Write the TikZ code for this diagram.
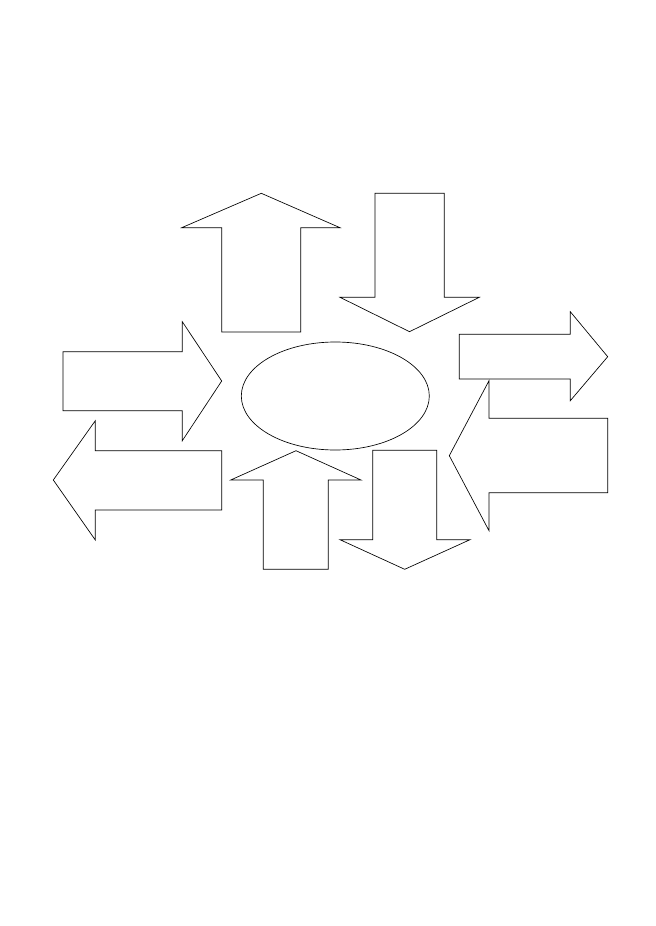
\documentclass[tikz,border=0pt]{standalone}
\usepackage{tikz}

\tikzset{
    blockarrow/.style={draw=black, line width=0.6pt, line join=miter},
    hub/.style={draw=black, line width=0.6pt}
}

\begin{document}
\begin{tikzpicture}[x=0.9088pt, y=-0.9088pt]

    % Page size (pixels of the reference)
    \useasboundingbox (0,0) rectangle (655,926);

    % Draw central ellipse
    \draw[hub] (335.3,396) ellipse [x radius=94, y radius=54];

    % Draw upper arrow pointing up
    \draw[blockarrow] (221.7,332) -- (221.7,227.7) -- (181.7,227.7) -- (261.3,193.3)
        -- (340,227.7) -- (300.7,227.7) -- (300.7,332) -- cycle;

    % Draw upper arrow pointing down
    \draw[blockarrow] (375,193.3) -- (444.3,193.3) -- (444.3,297.3) -- (479.3,297.3)
        -- (409.5,331.7) -- (340,297.3) -- (375,297.3) -- cycle;

    % Draw left arrow pointing right
    \draw[blockarrow] (63,351.7) -- (182.3,351.7) -- (182.3,321.7) -- (221.7,381)
        -- (182.3,440.7) -- (182.3,410.7) -- (63,410.7) -- cycle;

    % Draw right arrow pointing right
    \draw[blockarrow] (459.3,334.3) -- (570.3,334.3) -- (570.3,311.7) -- (607.7,356.7)
        -- (570.3,400.7) -- (570.3,379) -- (459.3,379) -- cycle;

    % Draw left arrow pointing left
    \draw[blockarrow] (221.7,450.7) -- (95.3,450.7) -- (95.3,420.7) -- (53.3,480)
        -- (95.3,540) -- (95.3,510) -- (221.7,510) -- cycle;

    % Draw lower arrow pointing up
    \draw[blockarrow] (263.3,569.3) -- (263.3,480) -- (230.7,480) -- (296,450.7)
        -- (361,480) -- (328.3,480) -- (328.3,569.3) -- cycle;

    % Draw lower arrow pointing down
    \draw[blockarrow] (372.7,450.3) -- (436.7,450.3) -- (436.7,539.7) -- (470,539.7)
        -- (404.7,569.3) -- (340,539.7) -- (372.7,539.7) -- cycle;

    % Draw right arrow pointing left
    \draw[blockarrow] (607.7,418.3) -- (489,418.3) -- (489,380.7) -- (449.3,455.7)
        -- (489,530.7) -- (489,492.7) -- (607.7,492.7) -- cycle;

\end{tikzpicture}
\end{document}
